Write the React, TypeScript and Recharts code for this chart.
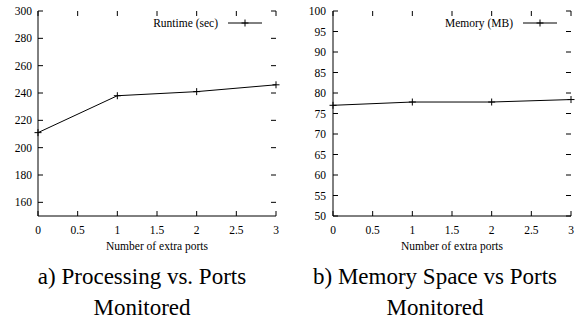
import { Legend, Line, LineChart, XAxis, YAxis } from "recharts";

const ports = [0, 1, 2, 3];
const runtimeSec = [211, 238, 241, 246];
const memoryMb = [77, 77.8, 77.8, 78.4];
const portTicks = [0, 0.5, 1, 1.5, 2, 2.5, 3];
const runtimeTicks = [160, 180, 200, 220, 240, 260, 280, 300];
const memoryTicks = [50, 55, 60, 65, 70, 75, 80, 85, 90, 95, 100];

const SERIF = "Liberation Serif, DejaVu Serif, serif";
const CHART_W = 291;
const PLOT_TOP = 11;
const TICK_LEN = 5;

// gnuplot-style "+" point marker
function plusDot(p: any) {
  const { cx, cy, index } = p;
  return (
    <path
      key={`dot-${index}`}
      d={`M${cx - 3.5},${cy}h7M${cx},${cy - 3.5}v7`}
      stroke="#000"
      strokeWidth={1}
      fill="none"
    />
  );
}

// bottom tick label, plus the mirrored tick mark on the top border
function XTick(p: any) {
  const { x, y, payload } = p;
  return (
    <g>
      <line x1={x} x2={x} y1={PLOT_TOP} y2={PLOT_TOP + TICK_LEN} stroke="#000" />
      <text x={x} y={y} dy="0.71em" textAnchor="middle" fontFamily={SERIF} fontSize={11.5} fill="#000">
        {payload.value}
      </text>
    </g>
  );
}

// left tick label, plus the mirrored tick mark on the right border
function makeYTick(plotRight: number) {
  return (p: any) => {
    const { x, y, payload, index } = p;
    return (
      <g key={`yt-${index}`}>
        <line x1={plotRight - TICK_LEN} x2={plotRight} y1={y} y2={y} stroke="#000" />
        <text x={x} y={y} dy="0.355em" textAnchor="end" fontFamily={SERIF} fontSize={11.5} fill="#000">
          {payload.value}
        </text>
      </g>
    );
  };
}

function LegendItem({ label }: { label: string }) {
  return (
    <div
      style={{
        display: "flex",
        alignItems: "center",
        fontFamily: SERIF,
        fontSize: 11.5,
        lineHeight: "14px",
        height: 14,
        color: "#000"
      }}
    >
      <span>{label}</span>
      <svg width={44} height={14}>
        <line x1={10} x2={44} y1={7} y2={7} stroke="#000" />
        <path d="M23.5,7h7M27,3.5v7" stroke="#000" fill="none" />
      </svg>
    </div>
  );
}

interface PortChartProps {
  name: string;
  values: number[];
  domain: [number, number];
  yTicks: number[];
  yWidth: number;
  rightMargin: number;
  yTickMargin: number;
  legendRight: number;
}

function PortChart({ name, values, domain, yTicks, yWidth, rightMargin, yTickMargin, legendRight }: PortChartProps) {
  const data = ports.map((p, i) => ({ port: p, value: values[i] }));
  const plotRight = CHART_W - rightMargin;
  return (
    <LineChart width={CHART_W} height={260} data={data} margin={{ top: PLOT_TOP, right: rightMargin, bottom: 0, left: 0 }}>
      <XAxis
        xAxisId="bottom"
        dataKey="port"
        type="number"
        domain={[0, 3]}
        ticks={portTicks}
        interval={0}
        height={44}
        tickSize={-TICK_LEN}
        tickMargin={15}
        stroke="#000"
        tick={<XTick />}
        label={{
          value: "Number of extra ports",
          position: "insideBottom",
          offset: 10.5,
          style: { fontSize: 11.5, fontFamily: SERIF, fill: "#000" }
        }}
      />
      <XAxis
        xAxisId="top"
        orientation="top"
        dataKey="port"
        type="number"
        domain={[0, 3]}
        height={0}
        tick={false}
        tickLine={false}
        stroke="#000"
      />
      <YAxis
        yAxisId="left"
        dataKey="value"
        type="number"
        domain={domain}
        ticks={yTicks}
        interval={0}
        width={yWidth}
        tickSize={-TICK_LEN}
        tickMargin={yTickMargin}
        stroke="#000"
        tick={makeYTick(plotRight)}
      />
      <YAxis
        yAxisId="right"
        orientation="right"
        dataKey="value"
        type="number"
        domain={domain}
        width={0}
        tick={false}
        tickLine={false}
        stroke="#000"
      />
      <Legend
        layout="horizontal"
        align="center"
        verticalAlign="middle"
        wrapperStyle={{ top: 16, right: legendRight, left: "auto", width: "auto" }}
        content={() => <LegendItem label={name} />}
      />
      <Line
        xAxisId="bottom"
        yAxisId="left"
        dataKey="value"
        name={name}
        stroke="#000"
        strokeWidth={1}
        dot={plusDot}
        activeDot={false}
        type="linear"
        isAnimationActive={false}
      />
    </LineChart>
  );
}

const captionStyle = {
  position: "absolute" as const,
  top: 261,
  fontFamily: SERIF,
  fontSize: 23,
  lineHeight: "31px",
  textAlign: "center" as const,
  color: "#000"
};

export default function App() {
  return (
    <div style={{ position: "absolute", left: 0, top: 0, width: 582, height: 322, background: "#fff" }}>
      <div style={{ position: "absolute", left: 0, top: 0 }}>
        <PortChart
          name="Runtime (sec)"
          values={runtimeSec}
          domain={[150, 300]}
          yTicks={runtimeTicks}
          yWidth={38}
          rightMargin={15}
          yTickMargin={11}
          legendRight={29}
        />
      </div>
      <div style={{ position: "absolute", left: CHART_W, top: 0 }}>
        <PortChart
          name="Memory (MB)"
          values={memoryMb}
          domain={[50, 100]}
          yTicks={memoryTicks}
          yWidth={42}
          rightMargin={11}
          yTickMargin={12}
          legendRight={25}
        />
      </div>
      <div style={{ ...captionStyle, left: 0, width: 284 }}>
        <div>a) Processing vs. Ports</div>
        <div>Monitored</div>
      </div>
      <div style={{ ...captionStyle, left: 290, width: 290 }}>
        <div>b) Memory Space vs Ports</div>
        <div>Monitored</div>
      </div>
    </div>
  );
}
